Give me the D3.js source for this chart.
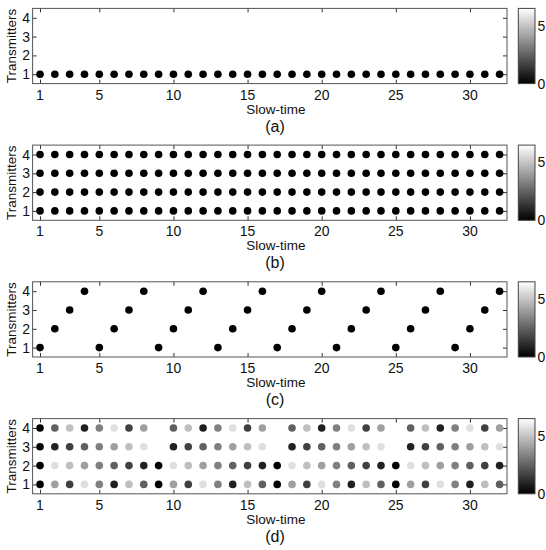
<!DOCTYPE html>
<html>
<head>
    <title>Transmitter slow-time schedules</title>
    <script src="https://d3js.org/d3.v7.min.js"></script>
    <style>
        body { margin: 0; background: #fff; }
        text { font-family: "Liberation Sans", Arial, sans-serif; fill: #111; }
    </style>
</head>
<body>
    <div id="chart"></div>
    <script>
        // slow-time index and tick labels
        const slowTime = [1,2,3,4,5,6,7,8,9,10,11,12,13,14,15,16,17,18,19,20,21,22,23,24,25,26,27,28,29,30,31,32];
        const xTicks = [1, 5, 10, 15, 20, 25, 30];
        const yTicks = [1, 2, 3, 4];
        const cbarTicks = [0, 5];
        const panelLabels = ["(a)", "(b)", "(c)", "(d)"];

        // (a) only transmitter 1 fires
        const txA = [1,1,1,1,1,1,1,1,1,1,1,1,1,1,1,1,1,1,1,1,1,1,1,1,1,1,1,1,1,1,1,1];
        // (b) all transmitters every pulse
        const txB = [1, 2, 3, 4];
        // (c) one transmitter per pulse, round robin
        const txC = [1,2,3,4,1,2,3,4,1,2,3,4,1,2,3,4,1,2,3,4,1,2,3,4,1,2,3,4,1,2,3,4];
        // (d) phase codes per transmitter, in units of 2*pi/8 (8 = 2*pi)
        const phaseT1 = [0,5,2,7,4,1,6,3, 0,5,2,7,4,1,6,3, 0,5,2,7,4,1,6,3, 0,5,2,7,4,1,6,3];
        const phaseT2 = [0,7,6,5,4,3,2,1, 0,7,6,5,4,3,2,1, 0,7,6,5,4,3,2,1, 0,7,6,5,4,3,2,1];
        const phaseT3 = [0,1,2,3,4,5,6,7, 8,1,2,3,4,5,6,7, 8,1,2,3,4,5,6,7, 8,1,2,3,4,5,6,7];
        const phaseT4 = [0,3,6,1,4,7,2,5, 8,3,6,1,4,7,2,5, 8,3,6,1,4,7,2,5, 8,3,6,1,4,7,2,5];

        const panels = [
            slowTime.map((t, i) => ({t: t, tx: txA[i], v: 0})),
            slowTime.flatMap(t => txB.map(m => ({t: t, tx: m, v: 0}))),
            slowTime.map((t, i) => ({t: t, tx: txC[i], v: 0})),
            [phaseT1, phaseT2, phaseT3, phaseT4].flatMap((row, m) =>
                row.map((c, i) => ({t: slowTime[i], tx: m + 1, v: c * Math.PI / 4})))
        ];

        const W = 546, H = 550;
        const svg = d3.select("#chart").append("svg").attr("width", W).attr("height", H);

        const left = 32.6, right = 507, ph = 75.2;
        const tops = [8.4, 145.1, 281.8, 418.6];
        const cbX = 518.3, cbW = 16.7;

        const x = d3.scaleLinear().domain([0.5, 32.5]).range([left, right]);
        const color = d3.scaleLinear().domain([0, 2 * Math.PI]).range(["#000", "#fff"]);

        // gradient for colorbar
        const grad = svg.append("defs").append("linearGradient")
            .attr("id", "gray").attr("x1", 0).attr("y1", 1).attr("x2", 0).attr("y2", 0);
        grad.append("stop").attr("offset", 0).attr("stop-color", "#000");
        grad.append("stop").attr("offset", 1).attr("stop-color", "#fff");

        panels.forEach(function(pts, p) {
            const top = tops[p];
            const y = d3.scaleLinear().domain([0.5, 4.5]).range([top + ph, top]);
            const g = svg.append("g");

            // ticks (inward, both sides)
            g.append("g").attr("transform", `translate(0,${top + ph})`)
                .call(d3.axisTop(x).tickValues(xTicks).tickSize(4).tickFormat(""));
            g.append("g").attr("transform", `translate(0,${top})`)
                .call(d3.axisBottom(x).tickValues(xTicks).tickSize(4).tickFormat(""));
            g.append("g").attr("transform", `translate(${left},0)`)
                .call(d3.axisRight(y).tickValues(yTicks).tickSize(4).tickFormat(""));
            g.append("g").attr("transform", `translate(${right},0)`)
                .call(d3.axisLeft(y).tickValues(yTicks).tickSize(4).tickFormat(""));
            g.selectAll(".domain").remove();
            g.selectAll(".tick line").attr("stroke", "#333");

            g.append("rect")
                .attr("x", left).attr("y", top)
                .attr("width", right - left).attr("height", ph)
                .attr("fill", "none").attr("stroke", "#555");

            // tick labels
            g.selectAll(".xl").data(xTicks).enter().append("text")
                .attr("x", d => x(d)).attr("y", top + ph + 16)
                .attr("text-anchor", "middle").attr("font-size", 14)
                .text(d => d);
            g.selectAll(".yl").data(yTicks).enter().append("text")
                .attr("x", 30).attr("y", d => y(d) + 5)
                .attr("text-anchor", "end").attr("font-size", 14)
                .text(d => d);

            g.append("text")
                .attr("transform", `translate(16,${top + ph / 2}) rotate(-90)`)
                .attr("text-anchor", "middle").attr("font-size", 13.5)
                .text("Transmitters");
            g.append("text")
                .attr("x", 276).attr("y", top + ph + 30)
                .attr("text-anchor", "middle").attr("font-size", 13.5)
                .text("Slow-time");
            g.append("text")
                .attr("x", 275).attr("y", top + ph + 48)
                .attr("text-anchor", "middle").attr("font-size", 16)
                .text(panelLabels[p]);

            // dots
            g.selectAll(".dot").data(pts).enter().append("circle")
                .attr("class", "dot")
                .attr("cx", d => x(d.t)).attr("cy", d => y(d.tx))
                .attr("r", 3.8)
                .attr("fill", d => color(d.v));

            // colorbar
            const cy = d3.scaleLinear().domain([0, 2 * Math.PI]).range([top + ph, top]);
            g.append("rect")
                .attr("x", cbX).attr("y", top).attr("width", cbW).attr("height", ph)
                .attr("fill", "url(#gray)").attr("stroke", "#444");
            g.selectAll(".cl").data(cbarTicks).enter().append("text")
                .attr("x", cbX + cbW + 2.5).attr("y", d => Math.min(cy(d), top + ph - 2) + 7)
                .attr("font-size", 14)
                .text(d => d);
        });
    </script>
</body>
</html>
